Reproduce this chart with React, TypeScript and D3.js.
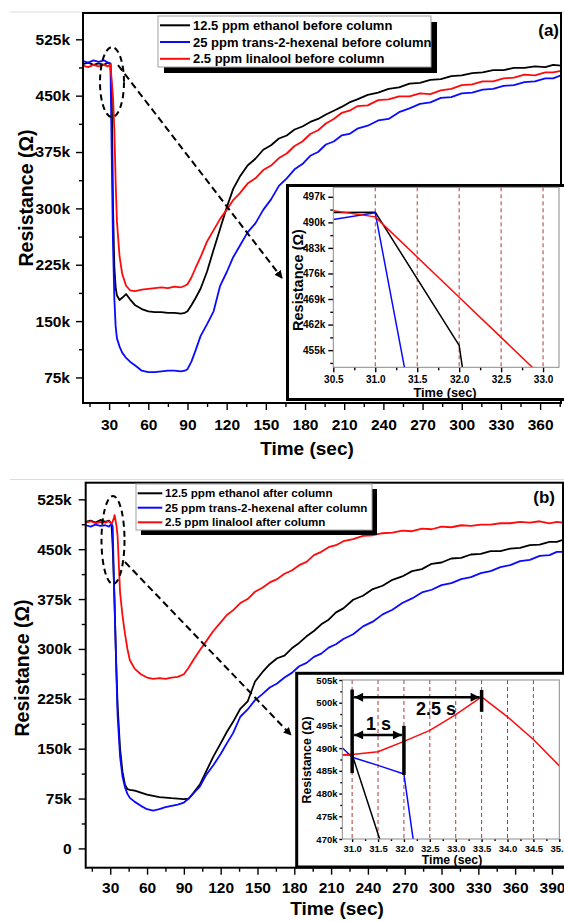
import { useEffect, useRef } from 'react'
import * as d3 from 'd3'

const WIDTH = 564
const HEIGHT = 921
const FONT = '"Liberation Sans", Arial, Helvetica, sans-serif'
const COLORS = ['#000000', '#0a0aff', '#ff0a0a']
const GUIDE = '#b03a3a'

// ---------- panel (a): before column (resistance in kΩ) ----------
const timeA = [10, 14, 18, 22, 26, 29, 31, 32, 33, 34, 35, 36, 38, 40, 43, 46, 50, 55, 60, 65, 70, 75, 80, 85,
  88, 90, 93, 96, 100, 105, 110, 115, 120, 125, 130, 136, 142, 148, 154, 160, 166, 172, 178, 184, 190, 196, 202, 208,
  214, 220, 228, 236, 244, 252, 260, 268, 276, 284, 292, 300, 308, 316, 324, 332, 340, 348, 356, 364, 370, 376]
const ethanolA = [492, 494, 491, 493, 491, 494, 492.8, 456, 300, 222, 195, 184, 178, 181, 186, 179, 171, 166,
  163, 162, 162, 161, 161, 160, 161, 163, 171, 180, 193, 216, 245, 273, 301, 326, 342, 357, 366, 378, 384, 393, 397, 405,
  409, 415, 419, 425, 430, 435, 441, 445, 451, 454, 459, 461, 466, 467, 471, 472, 476, 477, 480, 481, 484, 484, 487, 487,
  489, 488, 491, 490]
const hexenalA = [496, 494, 497, 495, 497, 494, 492.6, 371, 250, 180, 143, 127, 116, 108, 101, 96, 91, 84,
  82, 82, 83, 84, 84, 83, 84, 86, 96, 110, 130, 146, 163, 197, 215, 235, 250, 268, 280, 298, 312, 330, 340, 352,
  359, 370, 375, 385, 389, 397, 399, 406, 410, 417, 419, 428, 433, 439, 441, 447, 448, 453, 454, 458, 459, 463, 464, 468,
  469, 473, 473, 477]
const linaloolA = [490, 488, 491, 489, 491, 489, 491.5, 469.5, 447.5, 405, 335, 282, 236, 213, 197, 191, 190, 192,
  193, 194, 195, 194, 196, 195, 197, 199, 208, 220, 235, 256, 271, 286, 298, 311, 320, 333, 340, 351, 357, 367, 373, 383,
  389, 399, 404, 413, 419, 427, 430, 436, 437, 444, 445, 449, 449, 453, 452, 457, 459, 464, 465, 469, 469, 473, 474, 478,
  477, 481, 481, 483]
const legendA = ['12.5 ppm ethanol before column', '25 ppm trans-2-hexenal before column', '2.5 ppm linalool before column']
const xTicksA = [30, 60, 90, 120, 150, 180, 210, 240, 270, 300, 330, 360]
const yTicksA = [75, 150, 225, 300, 375, 450, 525]

// inset (a)
const insetTimeA = [30.5, 31.0, 32.0, 33.0]
const insetEthanolA = [492.7, 492.8, 456.3, 300]
const insetHexenalA = [490.8, 492.6, 371, 250]
const insetLinaloolA = [493.2, 491.5, 469.5, 447.5]
const insetXTicksA = [30.5, 31.0, 31.5, 32.0, 32.5, 33.0]
const insetYTicksA = [455, 462, 469, 476, 483, 490, 497]
const insetGuidesA = [31.0, 31.5, 32.0, 32.5, 33.0]

// ---------- panel (b): after column ----------
const timeB = [10, 14, 18, 22, 26, 29, 31, 32, 33, 33.5, 34, 35, 36, 38, 40, 42, 44, 46, 50, 55, 60, 65, 70, 75,
  80, 85, 90, 94, 98, 103, 108, 114, 120, 125, 130, 136, 142, 148, 154, 160, 166, 172, 178, 184, 190, 196, 202, 208,
  214, 220, 228, 236, 244, 252, 260, 268, 276, 284, 292, 300, 308, 316, 324, 332, 340, 348, 356, 364, 372, 380, 388, 394, 399]
const ethanolB = [491, 493, 490, 494, 491, 493, 488.6, 453.6, 400, 370, 335, 270, 215, 150, 115, 96, 89, 88,
  87, 84, 81, 79, 77, 76.5, 75.5, 75, 74, 75, 84, 96, 115, 138, 158, 175, 190, 210, 221, 251, 265, 277, 286, 290,
  301, 309, 319, 327, 337, 344, 355, 361, 374, 380, 390, 395, 404, 409, 417, 420, 428, 430, 436, 437, 442, 443, 447, 447,
  451, 452, 456, 457, 461, 461, 464]
const hexenalB = [486, 484, 487, 485, 486, 484, 488, 484.3, 404, 370, 335, 265, 200, 138, 108, 92, 82, 76,
  70, 64, 59, 57, 59, 62, 64, 66, 69, 75, 83, 93, 110, 125, 142, 158, 173, 198, 209, 223, 232, 242, 248, 257,
  264, 274, 279, 288, 293, 302, 307, 315, 322, 334, 341, 352, 359, 369, 376, 385, 389, 396, 399, 405, 408, 414, 417, 423,
  426, 432, 434, 440, 441, 446, 446]
const linaloolB = [490, 492, 489, 491, 490, 492, 488.6, 491.5, 497.4, 501.3, 496.9, 486.1, 470, 385, 350, 323, 300, 283,
  270, 262, 257, 255, 256, 255, 257, 258, 262, 272, 284, 298, 311, 327, 340, 351, 358, 369, 375, 386, 392, 400, 405, 413,
  418, 426, 431, 441, 446, 453, 456, 462, 465, 470, 471, 474, 475, 478, 477, 481, 480, 484, 483, 486, 485, 487, 487, 489,
  489, 491, 490, 492, 489, 491, 490]
const legendB = ['12.5 ppm ethanol after column', '25 ppm trans-2-hexenal after column', '2.5 ppm linalool after column']
const xTicksB = [30, 60, 90, 120, 150, 180, 210, 240, 270, 300, 330, 360, 390]
const yTicksB = [0, 75, 150, 225, 300, 375, 450, 525]

// inset (b)
const insetTimeB = [30.5, 31.0, 31.5, 32.0, 32.5, 33.0, 33.5, 34.0, 34.5, 35.0, 35.5]
const insetEthanolB = [488.5, 488.6, 471.1, 453.6, 420, 400, 370, 335, 300, 270, 240]
const insetHexenalB = [493.5, 488.0, 486.2, 484.3, 444, 404, 370, 335, 300, 265, 230]
const insetLinaloolB = [488.4, 488.6, 489.2, 491.5, 493.9, 497.4, 501.3, 496.9, 491.9, 486.1, 480]
const insetXTicksB = [31.0, 31.5, 32.0, 32.5, 33.0, 33.5, 34.0, 34.5, 35.0]
const insetYTicksB = [470, 475, 480, 485, 490, 495, 500, 505]
const insetGuidesB = [31.0, 31.5, 32.0, 32.5, 33.0, 33.5, 34.0, 34.5]
// delay markers: vertical bars (time, low, high) and spans (from, to, level, label, label time, label level)
const delayBars = [[31.0, 484.5, 502.9], [32.0, 484.1, 494.9], [33.5, 498.0, 502.8]]
const delaySpans: [number, number, number, string, number, number][] = [
  [31.0, 33.5, 501.2, '2.5 s', 32.62, 497.3],
  [31.0, 32.0, 492.9, '1 s', 31.51, 494.0],
]

type Box = { x0: number; x1: number; y0: number; y1: number }
type G = d3.Selection<any, unknown, null, undefined>

function minorTicks(major: number[], domain: number[]) {
  const step = major[1] - major[0]
  const out: number[] = []
  for (let v = major[0] - step / 2; v <= domain[1] + 1e-9; v += step) {
    if (v >= domain[0]) out.push(+v.toFixed(4))
  }
  return out
}

function styleAxis(g: G, size: number) {
  g.select('.domain').remove()
  g.selectAll('line').attr('stroke', '#000').attr('stroke-width', 1.4)
  g.selectAll('text')
    .attr('font-family', FONT)
    .attr('font-weight', 'bold')
    .attr('font-size', size)
    .attr('fill', '#000')
}

function addAxes(svg: G, x: any, y: any, box: Box, o: any) {
  const gx = svg.append('g').attr('transform', `translate(0,${box.y1})`)
    .call(d3.axisBottom(x).tickValues(o.xTicks).tickSize(o.major).tickSizeOuter(0)
      .tickPadding(o.xPad).tickFormat(o.xFormat))
  const gxm = svg.append('g').attr('transform', `translate(0,${box.y1})`)
    .call(d3.axisBottom(x).tickValues(minorTicks(o.xTicks, x.domain())).tickSize(o.minor)
      .tickSizeOuter(0).tickFormat(() => ''))
  const gy = svg.append('g').attr('transform', `translate(${box.x0},0)`)
    .call(d3.axisLeft(y).tickValues(o.yTicks).tickSize(o.major).tickSizeOuter(0)
      .tickPadding(o.yPad).tickFormat(o.yFormat))
  const gym = svg.append('g').attr('transform', `translate(${box.x0},0)`)
    .call(d3.axisLeft(y).tickValues(minorTicks(o.yTicks, y.domain())).tickSize(o.minor)
      .tickSizeOuter(0).tickFormat(() => ''))
  ;[gx, gxm, gy, gym].forEach(g => styleAxis(g, o.font))
}

function addText(svg: G, str: string, x: number, y: number, size: number, anchor = 'middle', rotate = false) {
  svg.append('text')
    .attr('transform', `translate(${x},${y})${rotate ? ' rotate(-90)' : ''}`)
    .attr('text-anchor', anchor)
    .attr('font-family', FONT)
    .attr('font-weight', 'bold')
    .attr('font-size', size)
    .attr('fill', '#000')
    .text(str)
}

function drawLines(svg: G, id: string, box: Box, x: any, y: any, time: number[], series: number[][], width: number) {
  svg.append('clipPath').attr('id', id).append('rect')
    .attr('x', box.x0).attr('y', box.y0)
    .attr('width', box.x1 - box.x0).attr('height', box.y1 - box.y0)
  const g = svg.append('g').attr('clip-path', `url(#${id})`)
  const line = d3.line<[number, number]>().x(d => x(d[0])).y(d => y(d[1]))
  series.forEach((vals, i) => {
    g.append('path')
      .attr('d', line(time.map((t, j) => [t, vals[j]] as [number, number])))
      .attr('fill', 'none')
      .attr('stroke', COLORS[i])
      .attr('stroke-width', width)
      .attr('stroke-linejoin', 'round')
  })
}

function drawPanel(svg: G, p: any) {
  const box: Box = p.box
  const x = d3.scaleLinear().domain(p.xDomain).range([box.x0, box.x1])
  const y = d3.scaleLinear().domain(p.yDomain).range([box.y1, box.y0])

  // faint rule above the panel
  svg.append('line').attr('x1', 10).attr('x2', WIDTH).attr('y1', p.rule).attr('y2', p.rule)
    .attr('stroke', '#dcdcdc').attr('stroke-width', 1)

  drawLines(svg, p.id, box, x, y, p.time, p.series, 1.8)

  addAxes(svg, x, y, box, {
    xTicks: p.xTicks, yTicks: p.yTicks, major: 7, minor: 4, xPad: p.xPad, yPad: p.yPad, font: 15.5,
    xFormat: (d: any) => String(d), yFormat: (d: any) => (+d === 0 ? '0' : `${d}k`),
  })
  svg.append('rect')
    .attr('x', box.x0).attr('y', box.y0)
    .attr('width', box.x1 - box.x0).attr('height', box.y1 - box.y0)
    .attr('fill', 'none').attr('stroke', '#000').attr('stroke-width', 2)

  addText(svg, 'Time (sec)', p.xTitle[0], p.xTitle[1], 19)
  addText(svg, 'Resistance (\u03a9)', p.yTitle[0], p.yTitle[1], 19.5, 'middle', true)
  addText(svg, p.tag, p.tagPos[0], p.tagPos[1], 17, 'end')

  // legend
  const L = p.legend
  const lg = svg.append('g')
  lg.append('rect').attr('x', L.x0 + L.shadow).attr('y', L.y0 + L.shadow)
    .attr('width', L.x1 - L.x0).attr('height', L.y1 - L.y0).attr('fill', '#000')
  lg.append('rect').attr('x', L.x0).attr('y', L.y0)
    .attr('width', L.x1 - L.x0).attr('height', L.y1 - L.y0)
    .attr('fill', '#fff').attr('stroke', '#a0a0a0').attr('stroke-width', 1)
  p.labels.forEach((label: string, i: number) => {
    lg.append('line').attr('x1', L.lineX[0]).attr('x2', L.lineX[1])
      .attr('y1', L.rows[i]).attr('y2', L.rows[i])
      .attr('stroke', COLORS[i]).attr('stroke-width', 2)
    lg.append('text').attr('x', L.textX).attr('y', L.rows[i] + L.font * 0.36)
      .attr('font-family', FONT).attr('font-weight', 'bold').attr('font-size', L.font)
      .attr('fill', '#000').text(label)
  })

  // dashed ellipse around the onset and the pointer to the inset
  const cx = x(p.zoom[0])
  const cy = y(p.zoom[1])
  svg.append('ellipse').attr('cx', cx).attr('cy', cy).attr('rx', p.zoom[2]).attr('ry', p.zoom[3])
    .attr('fill', 'none').attr('stroke', '#000').attr('stroke-width', 2).attr('stroke-dasharray', '6,4')
  svg.append('line')
    .attr('x1', cx + p.pointer[0]).attr('y1', cy + p.pointer[1])
    .attr('x2', p.pointer[2]).attr('y2', p.pointer[3])
    .attr('stroke', '#000').attr('stroke-width', 2).attr('stroke-dasharray', '7,4')
    .attr('marker-end', 'url(#dash-head)')
}

function drawInset(svg: G, s: any) {
  const o: Box = s.outer
  const b: Box = s.inner
  svg.append('rect').attr('x', o.x0).attr('y', o.y0)
    .attr('width', o.x1 - o.x0).attr('height', o.y1 - o.y0)
    .attr('fill', '#fff').attr('stroke', '#000').attr('stroke-width', 3)
  const x = d3.scaleLinear().domain(s.xDomain).range([b.x0, b.x1])
  const y = d3.scaleLinear().domain(s.yDomain).range([b.y1, b.y0])

  s.guides.forEach((t: number) => {
    svg.append('line').attr('x1', x(t)).attr('x2', x(t)).attr('y1', b.y0).attr('y2', b.y1)
      .attr('stroke', GUIDE).attr('stroke-width', 1).attr('stroke-dasharray', '4,3')
  })
  drawLines(svg, s.id, b, x, y, s.time, s.series, 1.5)

  addAxes(svg, x, y, b, {
    xTicks: s.xTicks, yTicks: s.yTicks, major: s.major, minor: s.minor, xPad: s.xPad, yPad: s.yPad,
    font: s.font, xFormat: d3.format('.1f'), yFormat: (d: any) => `${d}k`,
  })
  svg.append('rect').attr('x', b.x0).attr('y', b.y0)
    .attr('width', b.x1 - b.x0).attr('height', b.y1 - b.y0)
    .attr('fill', 'none').attr('stroke', '#8a8a8a').attr('stroke-width', 1)

  addText(svg, 'Time (sec)', s.xTitle[0], s.xTitle[1], s.titleFont)
  addText(svg, 'Resistance (\u03a9)', s.yTitle[0], s.yTitle[1], s.yTitleFont, 'middle', true)
  return { x, y }
}

export default function App() {
  const svgRef = useRef<SVGSVGElement>(null)

  useEffect(() => {
    if (!svgRef.current) return
    const svg: G = d3.select(svgRef.current)
    svg.selectAll('*').remove()

    const defs = svg.append('defs')
    defs.append('marker').attr('id', 'dash-head')
      .attr('viewBox', '0 0 10 10').attr('refX', 9).attr('refY', 5)
      .attr('markerWidth', 8).attr('markerHeight', 8).attr('markerUnits', 'userSpaceOnUse')
      .attr('orient', 'auto')
      .append('path').attr('d', 'M0,0 L10,5 L0,10 Z').attr('fill', '#000')
    defs.append('marker').attr('id', 'span-head')
      .attr('viewBox', '0 0 10 10').attr('refX', 10).attr('refY', 5)
      .attr('markerWidth', 10).attr('markerHeight', 9).attr('markerUnits', 'userSpaceOnUse')
      .attr('orient', 'auto-start-reverse')
      .append('path').attr('d', 'M0,0 L10,5 L0,10 Z').attr('fill', '#000')

    // ----- (a) -----
    drawPanel(svg, {
      id: 'clip-a', rule: 12,
      box: { x0: 83, x1: 561, y0: 13, y1: 403 },
      xDomain: [10, 376], yDomain: [41, 560],
      time: timeA, series: [ethanolA, hexenalA, linaloolA],
      xTicks: xTicksA, yTicks: yTicksA, xPad: 9, yPad: 6,
      xTitle: [307, 455], yTitle: [33, 198], tag: '(a)', tagPos: [559, 36],
      labels: legendA,
      legend: { x0: 158, x1: 431, y0: 16, y1: 67, shadow: 6, lineX: [160, 190], textX: 193,
        rows: [25.3, 42, 58.8], font: 13 },
      zoom: [32.2, 468, 12, 35], pointer: [6, -17, 282, 278],
    })
    drawInset(svg, {
      id: 'clip-ia',
      outer: { x0: 287.5, x1: 568, y0: 185.5, y1: 399.5 },
      inner: { x0: 333.3, x1: 559, y0: 187.3, y1: 367.3 },
      xDomain: [30.5, 33.19], yDomain: [450.3, 499.6],
      time: insetTimeA, series: [insetEthanolA, insetHexenalA, insetLinaloolA],
      xTicks: insetXTicksA, yTicks: insetYTicksA, guides: insetGuidesA,
      major: 5, minor: 3, xPad: 4, yPad: 3, font: 10,
      xTitle: [445, 396.5], yTitle: [303, 280], titleFont: 12.8, yTitleFont: 14.5,
    })

    // ----- (b) -----
    drawPanel(svg, {
      id: 'clip-b', rule: 479.5,
      box: { x0: 85.7, x1: 563, y0: 482.7, y1: 867.7 },
      xDomain: [10, 399], yDomain: [-29, 550],
      time: timeB, series: [ethanolB, hexenalB, linaloolB],
      xTicks: xTicksB, yTicks: yTicksB, xPad: 7.6, yPad: 7,
      xTitle: [337, 915], yTitle: [28.5, 668], tag: '(b)', tagPos: [555, 503],
      labels: legendB,
      legend: { x0: 136, x1: 372, y0: 484, y1: 530, shadow: 5, lineX: [137.7, 162.3], textX: 165,
        rows: [493.3, 507.7, 522.3], font: 11.6 },
      zoom: [32.25, 463.8, 11.5, 44], pointer: [12, 22, 291, 735],
    })
    const ib = drawInset(svg, {
      id: 'clip-ib',
      outer: { x0: 296.7, x1: 568, y0: 673.3, y1: 867 },
      inner: { x0: 342.3, x1: 559.3, y0: 680, y1: 839 },
      xDomain: [30.81, 35.0], yDomain: [470, 505],
      time: insetTimeB, series: [insetEthanolB, insetHexenalB, insetLinaloolB],
      xTicks: insetXTicksB, yTicks: insetYTicksB, guides: insetGuidesB,
      major: 3, minor: 2, xPad: 3.6, yPad: 1.8, font: 9.5,
      xTitle: [452, 864], yTitle: [310.7, 760], titleFont: 12.3, yTitleFont: 12.4,
    })

    // delay annotations in inset (b)
    delayBars.forEach(([t, lo, hi]) => {
      svg.append('line').attr('x1', ib.x(t)).attr('x2', ib.x(t)).attr('y1', ib.y(lo)).attr('y2', ib.y(hi))
        .attr('stroke', '#000').attr('stroke-width', 3.5)
    })
    delaySpans.forEach(([from, to, level, label, lt, lv]) => {
      svg.append('line')
        .attr('x1', ib.x(from) + 2).attr('x2', ib.x(to) - 2)
        .attr('y1', ib.y(level)).attr('y2', ib.y(level))
        .attr('stroke', '#000').attr('stroke-width', 2.5)
        .attr('marker-start', 'url(#span-head)').attr('marker-end', 'url(#span-head)')
      addText(svg, label, ib.x(lt), ib.y(lv), 18)
    })
  }, [])

  return (
    <svg
      ref={svgRef}
      width={WIDTH}
      height={HEIGHT}
      style={{ position: 'absolute', left: 0, top: 0, background: '#fff' }}
    />
  )
}
